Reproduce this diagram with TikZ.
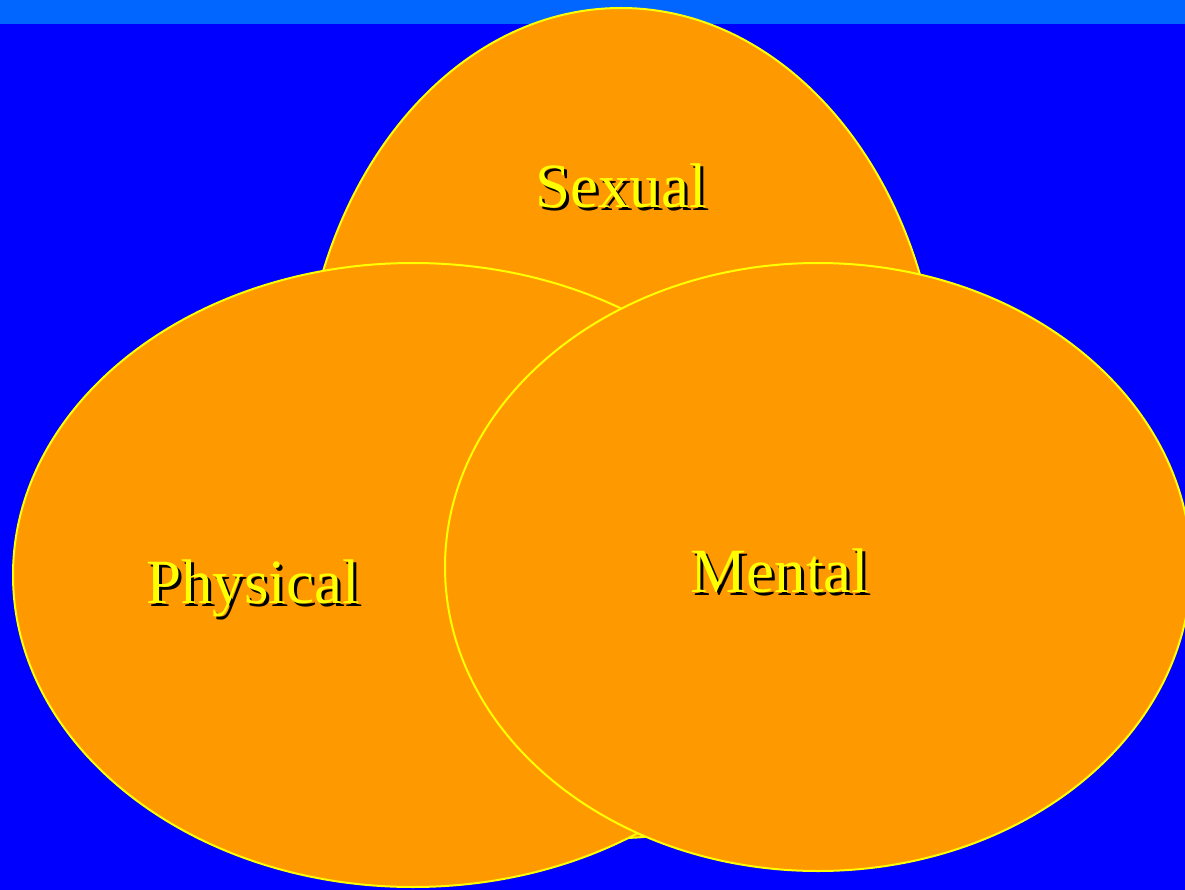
\documentclass[tikz,border=0pt]{standalone}
\usepackage{fontspec}
\setmainfont{Liberation Serif}
\usepackage{xcolor}
\usetikzlibrary{positioning,calc}

\definecolor{slidebg}{HTML}{0000FF}
\definecolor{slidetop}{HTML}{0066FF}
\definecolor{vennfill}{HTML}{FF9900}
\definecolor{vennline}{HTML}{FFFF00}

% yellow text with a black drop shadow
\newcommand\shadowed[1]{\makebox[0pt][l]{\hspace{3pt}\raisebox{-3pt}{\color{black}#1}}#1}

\begin{document}
\begin{tikzpicture}[
    x=1pt, y=-1pt,
    venn/.style = {fill=vennfill, draw=vennline, line width=2pt},
    lbl/.style = {font=\fontsize{63}{63}\selectfont, anchor=base, inner sep=0pt, text=vennline}
  ]
  % background
  \fill[slidebg] (0,0) rectangle (1185,890);
  \fill[slidetop] (0,0) rectangle (1185,24);
  \useasboundingbox (0,0) rectangle (1185,890);

  % the three circles
  \filldraw[venn] (621,423) ellipse [x radius=320, y radius=415];
  \filldraw[venn] (413,575) ellipse [x radius=400, y radius=312];
  \filldraw[venn] (818,567) ellipse [x radius=373, y radius=304];

  % labels
  \node[lbl] (sexual) at (621,208) {\shadowed{Sexual}};
  \node[lbl] (physical) at (253,603) {\shadowed{Physical}};
  \node[lbl] (mental) at (780,592) {\shadowed{Mental}};
\end{tikzpicture}
\end{document}
